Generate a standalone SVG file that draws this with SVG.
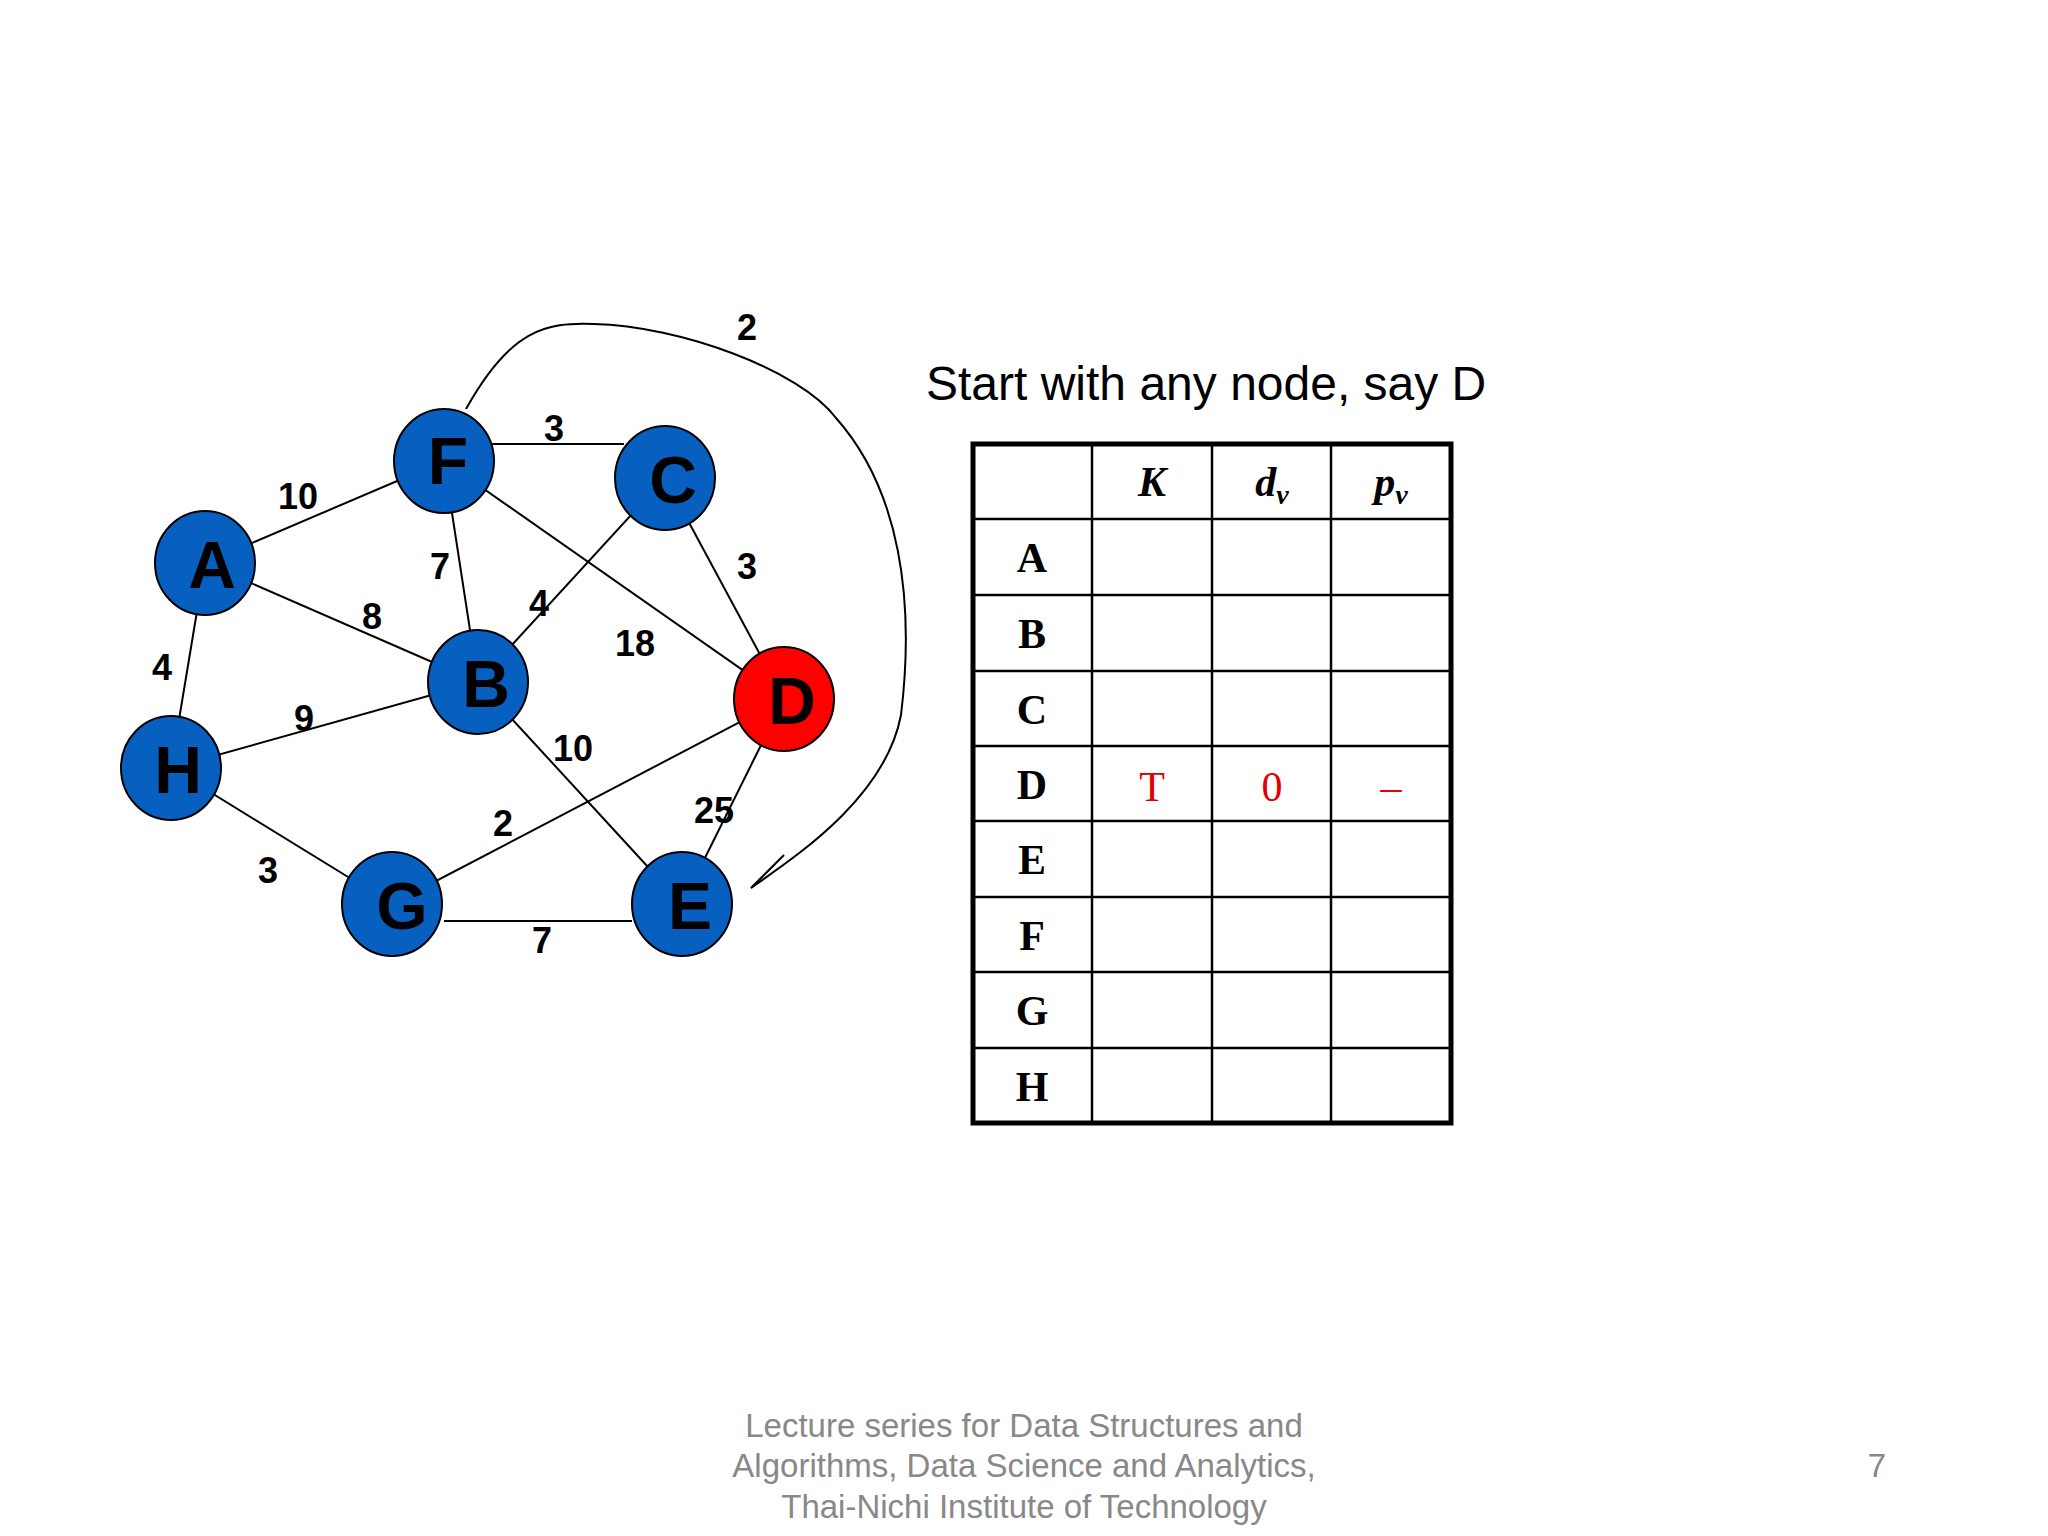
<svg xmlns="http://www.w3.org/2000/svg" width="2048" height="1536" viewBox="0 0 2048 1536">
<style>
.n{fill:#0760c0;stroke:#000;stroke-width:2}
.nl{font-family:"Liberation Sans",Arial,sans-serif;font-weight:bold;font-size:66px;text-anchor:middle;dominant-baseline:central;fill:#000}
.e{stroke:#000;stroke-width:2;fill:none}
.w{font-family:"Liberation Sans",Arial,sans-serif;font-weight:bold;font-size:36px;text-anchor:middle;dominant-baseline:central;fill:#000}
.t{font-family:"Liberation Serif","Times New Roman",serif;font-weight:bold;font-size:42px;text-anchor:middle;dominant-baseline:central;fill:#000}
.r{font-family:"Liberation Serif","Times New Roman",serif;font-size:42px;text-anchor:middle;dominant-baseline:central;fill:#e00000}
.g{stroke:#000;stroke-width:2.5}
.f{font-family:"Liberation Sans",Arial,sans-serif;font-size:33px;fill:#888;text-anchor:middle}
</style>
<rect width="2048" height="1536" fill="#fff"/>
<g id="connectors">
<line class="e" x1="444" y1="444" x2="624" y2="444"/>
<line class="e" x1="205" y1="563" x2="444" y2="461"/>
<line class="e" x1="205" y1="563" x2="478" y2="682"/>
<line class="e" x1="444" y1="461" x2="478" y2="682"/>
<line class="e" x1="444" y1="461" x2="784" y2="699"/>
<line class="e" x1="665" y1="478" x2="478" y2="682"/>
<line class="e" x1="665" y1="478" x2="784" y2="699"/>
<line class="e" x1="205" y1="563" x2="171" y2="768"/>
<line class="e" x1="171" y1="768" x2="478" y2="682"/>
<line class="e" x1="171" y1="768" x2="392" y2="904"/>
<line class="e" x1="392" y1="904" x2="784" y2="699"/>
<line class="e" x1="478" y1="682" x2="682" y2="904"/>
<line class="e" x1="444" y1="921" x2="632" y2="921"/>
<line class="e" x1="784" y1="699" x2="682" y2="904"/>
<path class="e" d="M466,409 C510,330 545,322 594,324 C680,326 800,370 836,418 C900,490 915,600 901,715 C885,800 790,860 751,888"/>
<line class="e" x1="751" y1="888" x2="784" y2="855"/>
</g>
<g id="weights">
<text class="w" x="747" y="327">2</text>
<text class="w" x="554" y="428">3</text>
<text class="w" x="298" y="496">10</text>
<text class="w" x="440" y="566">7</text>
<text class="w" x="747" y="566">3</text>
<text class="w" x="372" y="616">8</text>
<text class="w" x="539" y="603">4</text>
<text class="w" x="635" y="643">18</text>
<text class="w" x="162" y="667">4</text>
<text class="w" x="304" y="718">9</text>
<text class="w" x="573" y="748">10</text>
<text class="w" x="503" y="823">2</text>
<text class="w" x="714" y="810">25</text>
<text class="w" x="268" y="870">3</text>
<text class="w" x="542" y="940">7</text>
</g>
<g id="F"><ellipse class="n" cx="444" cy="461" rx="50" ry="52"/><text class="nl" x="448" y="461">F</text></g>
<g id="C"><ellipse class="n" cx="665" cy="478" rx="50" ry="52"/><text class="nl" x="673" y="480">C</text></g>
<g id="A"><ellipse class="n" cx="205" cy="563" rx="50" ry="52"/><text class="nl" x="212" y="565">A</text></g>
<g id="B"><ellipse class="n" cx="478" cy="682" rx="50" ry="52"/><text class="nl" x="486" y="684">B</text></g>
<g id="D"><ellipse class="n" style="fill:#ff0000" cx="784" cy="699" rx="50" ry="52"/><text class="nl" x="792" y="701">D</text></g>
<g id="H"><ellipse class="n" cx="171" cy="768" rx="50" ry="52"/><text class="nl" x="178" y="770">H</text></g>
<g id="G"><ellipse class="n" cx="392" cy="904" rx="50" ry="52"/><text class="nl" x="402" y="906">G</text></g>
<g id="E"><ellipse class="n" cx="682" cy="904" rx="50" ry="52"/><text class="nl" x="690" y="906">E</text></g>
<text x="926" y="400" font-family="'Liberation Sans',Arial,sans-serif" font-size="48" fill="#000">Start with any node, say D</text>
<g id="table">
<rect x="973" y="444" width="478" height="679" fill="none" stroke="#000" stroke-width="5"/>
<line class="g" x1="1092" y1="444" x2="1092" y2="1123"/>
<line class="g" x1="1212" y1="444" x2="1212" y2="1123"/>
<line class="g" x1="1331" y1="444" x2="1331" y2="1123"/>
<line class="g" x1="973" y1="519" x2="1451" y2="519"/>
<line class="g" x1="973" y1="595" x2="1451" y2="595"/>
<line class="g" x1="973" y1="671" x2="1451" y2="671"/>
<line class="g" x1="973" y1="746" x2="1451" y2="746"/>
<line class="g" x1="973" y1="821" x2="1451" y2="821"/>
<line class="g" x1="973" y1="897" x2="1451" y2="897"/>
<line class="g" x1="973" y1="972" x2="1451" y2="972"/>
<line class="g" x1="973" y1="1048" x2="1451" y2="1048"/>
<text class="t" x="1152" y="482" font-style="italic">K</text>
<text class="t" x="1272" y="482" font-style="italic">d<tspan font-size="28" dy="12">v</tspan></text>
<text class="t" x="1391" y="482" font-style="italic">p<tspan font-size="28" dy="12">v</tspan></text>
<text class="t" x="1032" y="558">A</text>
<text class="t" x="1032" y="634">B</text>
<text class="t" x="1032" y="710">C</text>
<text class="t" x="1032" y="785">D</text>
<text class="t" x="1032" y="860">E</text>
<text class="t" x="1032" y="936">F</text>
<text class="t" x="1032" y="1011">G</text>
<text class="t" x="1032" y="1087">H</text>
<text class="r" x="1152" y="787">T</text>
<text class="r" x="1272" y="787">0</text>
<text class="r" x="1391" y="787">–</text>
</g>
<text class="f" x="1024" y="1437">Lecture series for Data Structures and</text>
<text class="f" x="1024" y="1477">Algorithms, Data Science and Analytics,</text>
<text class="f" x="1024" y="1518">Thai-Nichi Institute of Technology</text>
<text class="f" x="1877" y="1477">7</text>
</svg>
